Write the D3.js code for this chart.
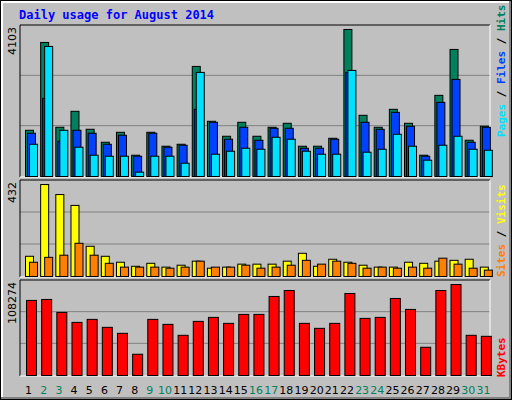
<!DOCTYPE html>
<html><head><meta charset="utf-8">
<script src="https://cdn.jsdelivr.net/npm/d3@7"></script>
<style>body{margin:0;background:#fff}</style>
</head><body>
<script>
var days = d3.range(1, 32);
var weekend = [2, 3, 9, 10, 16, 17, 23, 24, 30, 31];
var hits = [1290,3741,1374,1819,1318,956,1234,594,1234,845,900,3072,1541,1123,1513,1123,1374,1485,845,845,1067,4103,1708,1374,1875,1485,594,2265,3546,1012,1402];
var files = [1207,2181,984,1290,1207,900,1151,566,1207,817,873,1875,1513,1040,1374,1012,1346,1346,789,789,1040,2905,1513,1318,1791,1402,566,2070,2710,956,1374];
var pages = [900,3629,1290,817,594,566,566,121,566,566,371,2905,622,705,789,761,1095,1040,705,622,622,2961,678,761,1179,845,455,873,1123,761,733];
var visits = [95,432,385,334,142,95,67,48,62,44,53,72,39,44,58,58,58,72,109,48,81,67,53,44,44,67,62,72,76,81,44];
var sites = [67,90,100,156,100,62,44,44,44,39,44,72,44,44,53,39,44,53,76,58,72,62,39,44,39,44,39,86,58,39,30];
var kbytes = [89300,90460,75050,63200,66760,57280,50170,25280,66760,60830,47800,64390,69130,62020,72680,72680,94010,101120,62020,56090,62020,97570,67940,69130,91640,78610,33580,101120,108274,47800,46610];

var W = 512, H = 400, x0 = 20, x1 = 490;
var svg = d3.select("body").append("svg").attr("width", W).attr("height", H)
  .style("font-family", "DejaVu Sans Mono, monospace");

// outer frame
svg.append("rect").attrs ? 0 : 0;
svg.append("rect").attr("x", 0).attr("y", 0).attr("width", W).attr("height", H).attr("fill", "#000");
svg.append("rect").attr("x", 1).attr("y", 1).attr("width", W - 2).attr("height", H - 2).attr("fill", "#808080");
svg.append("rect").attr("x", 1).attr("y", 1).attr("width", W - 4).attr("height", H - 4).attr("fill", "#fff");
svg.append("rect").attr("x", 3).attr("y", 3).attr("width", W - 6).attr("height", H - 6).attr("fill", "#c0c0c0");

svg.append("text").attr("x", 19).attr("y", 19).attr("fill", "#0000ff")
  .attr("font-size", 12).attr("font-weight", "bold").text("Daily usage for August 2014");

var x = d3.scaleBand().domain(days).range([x0, x1]);

function panel(top, bottom, max, maxLabel) {
  var y = d3.scaleLinear().domain([0, max]).range([bottom, top]);
  var g = svg.append("g");
  [1 / 3, 2 / 3].forEach(function (f) {
    g.append("line").attr("x1", x0).attr("x2", x1)
      .attr("y1", y(max * f)).attr("y2", y(max * f)).attr("stroke", "#808080");
  });
  g.append("line").attr("x1", x0).attr("x2", x1).attr("y1", top).attr("y2", top).attr("stroke", "#000");
  g.append("line").attr("x1", x0).attr("x2", x0).attr("y1", top).attr("y2", bottom + 1).attr("stroke", "#000");
  g.append("line").attr("x1", x0).attr("x2", x1).attr("y1", bottom + 1).attr("y2", bottom + 1).attr("stroke", "#fff");
  g.append("line").attr("x1", x1).attr("x2", x1).attr("y1", top).attr("y2", bottom + 1).attr("stroke", "#fff");
  svg.append("text").attr("transform", "translate(16," + (top + 2) + ") rotate(-90)")
    .attr("text-anchor", "end").attr("font-size", 11).attr("fill", "#000")
    .style("font-family", "DejaVu Sans, sans-serif").text(maxLabel);
  return y;
}

function bars(y, data, off, w, color) {
  svg.append("g").selectAll("rect").data(data).enter().append("rect")
    .attr("x", function (d, i) { return x(days[i]) + off + 0.5; })
    .attr("y", function (d) { return y(d) + 0.5; })
    .attr("width", w)
    .attr("height", function (d) { return y(0) - y(d); })
    .attr("fill", color).attr("stroke", "#000");
}

var y1 = panel(25, 176, 4214, "4103");
bars(y1, hits, 5, 8, "#00805c");
bars(y1, files, 7, 8, "#0040ff");
bars(y1, pages, 9, 8, "#00e0ff");

var y2 = panel(180, 276, 451, "432");
bars(y2, visits, 5, 8, "#ffff00");
bars(y2, sites, 9, 8, "#ff8000");

var y3 = panel(280, 375, 113016, "108274");
bars(y3, kbytes, 6, 10, "#ff0000");

// right legends
function legend(yb, parts) {
  var t = svg.append("text").attr("transform", "translate(505," + yb + ") rotate(-90)")
    .attr("font-size", 11).attr("font-weight", "bold");
  parts.forEach(function (p) { t.append("tspan").attr("fill", p[1]).text(p[0]); });
}
legend(137, [["Pages", "#00e0ff"], [" / ", "#000"], ["Files", "#0040ff"], [" / ", "#000"], ["Hits", "#00805c"]]);
legend(277, [["Sites", "#ff8000"], [" / ", "#000"], ["Visits", "#ffff00"]]);
legend(377, [["KBytes", "#ff0000"]]);

svg.append("g").selectAll("text").data(days).enter().append("text")
  .attr("x", function (d) { return x(d) + x.bandwidth() / 2 + 1; })
  .attr("y", 394).attr("text-anchor", "middle").attr("font-size", 11)
  .style("font-family", "DejaVu Sans, sans-serif")
  .attr("fill", function (d) { return weekend.indexOf(d) >= 0 ? "#00805c" : "#000"; })
  .text(function (d) { return d; });
</script>
</body></html>
